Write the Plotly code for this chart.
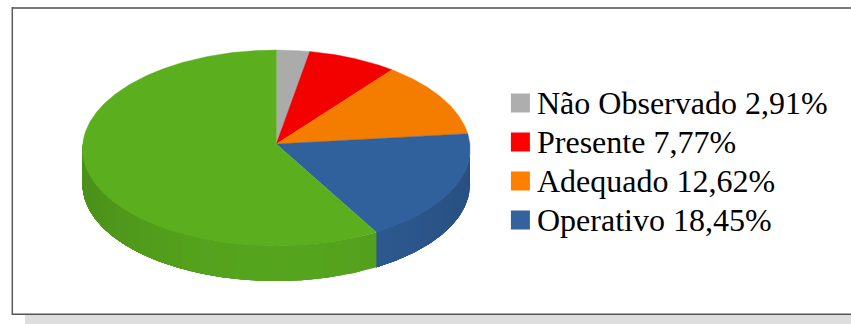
import numpy as np
import plotly.graph_objects as go

# Chart data
categories = ["Não Observado", "Presente", "Adequado", "Operativo", "Restante"]
values = [2.91, 7.77, 12.62, 18.45, 58.25]
top_colors = ["#ABABAB", "#F30000", "#F47D00", "#31619D", "#5BAF1F"]
swatch_colors = ["#AEAEAE", "#FF0000", "#FF7F00", "#33629F"]

# Geometry of the tilted disc, in page pixels
CX, CY, RX, RY = 276.3, 148.0, 193.6, 98.0
APEX_Y = 144.0
DEPTH = 35.0
PERSPECTIVE = 0.05
LIFT = 0.04


def rim(theta):
    """Point on the top rim; theta runs clockwise from twelve o'clock.
    The near half of the disc is spread slightly wider than the far half,
    and the sides sit a little higher than a plain ellipse would put them."""
    x = CX + RX * np.sin(theta) * (1 - PERSPECTIVE * np.cos(theta))
    y = CY - RY * (np.cos(theta) + LIFT * np.sin(theta) ** 2)
    return x, y


def shade(hex_color, factor):
    rgb = [int(hex_color[i:i + 2], 16) for i in (1, 3, 5)]
    return "rgb({},{},{})".format(*[round(c * factor) for c in rgb])


fig = go.Figure()

edges = np.concatenate([[0.0], np.cumsum(values)]) / sum(values) * 2 * np.pi

# Side wall, front half only. Each band runs to the far end of its slice and
# the next one paints over it, which leaves no seams between bands.
for idx in (3, 4):
    start, stop = max(edges[idx], np.pi / 2), min(edges[idx + 1], 3 * np.pi / 2)
    n = max(int((stop - start) / 0.09), 1)
    steps = np.linspace(start, stop, n + 1)
    for a, b in zip(steps[:-1], steps[1:]):
        t = np.linspace(a, stop, max(int((stop - a) / 0.01), 2))
        x, y = rim(t)
        mid = (a + b) / 2
        # lightest at the front of the disc, darker towards its outer ends
        factor = 0.94 - 0.12 * abs(np.sin(mid)) ** 2
        color = shade(top_colors[idx], factor)
        fig.add_trace(go.Scatter(
            x=np.concatenate([x, x[::-1]]),
            y=np.concatenate([y, y[::-1] + DEPTH]),
            mode="lines", fill="toself", fillcolor=color,
            line=dict(width=0),
            hoverinfo="skip", showlegend=False,
        ))

# Top face wedges
for i, name in enumerate(categories):
    t = np.linspace(edges[i], edges[i + 1], max(int((edges[i + 1] - edges[i]) / 0.01), 2))
    x, y = rim(t)
    fig.add_trace(go.Scatter(
        x=np.concatenate([[CX], x, [CX]]),
        y=np.concatenate([[APEX_Y], y, [APEX_Y]]),
        mode="lines", fill="toself", fillcolor=top_colors[i],
        line=dict(color=top_colors[i], width=0.4),
        name=name, hoverinfo="name", showlegend=False,
    ))

# Key: swatches and labels for the first four categories
key_y = [103.0, 142.0, 181.0, 220.0]
fig.add_trace(go.Scatter(
    x=[520.4] * 4, y=key_y, mode="markers",
    marker=dict(symbol="square", size=19, color=swatch_colors, line=dict(width=0)),
    hoverinfo="skip", showlegend=False,
))

annotations = []
for name, value, y in zip(categories[:4], values[:4], key_y):
    label = f"{name} {value:.2f}%".replace(".", ",")
    annotations.append(dict(
        x=535, y=y, xref="x", yref="y", text=label, showarrow=False,
        xanchor="left", yanchor="middle",
        font=dict(family="Liberation Serif", size=32, color="#000000"),
    ))

# Frame and the grey band under it
shapes = [
    dict(type="rect", x0=25, x1=851, y0=315, y1=324, fillcolor="#DEDEDE",
         line=dict(width=0), layer="below"),
    dict(type="line", x0=12, x1=851, y0=8, y1=8, line=dict(color="#7A7A7A", width=2), layer="below"),
    dict(type="line", x0=12.3, x1=12.3, y0=7, y1=315, line=dict(color="#5A5A5A", width=1.5), layer="below"),
    dict(type="line", x0=12, x1=851, y0=314.3, y1=314.3, line=dict(color="#555555", width=1.5), layer="below"),
]

fig.update_layout(
    width=851, height=324,
    margin=dict(l=0, r=0, t=0, b=0),
    paper_bgcolor="#FFFFFF", plot_bgcolor="#FFFFFF",
    xaxis=dict(range=[0, 851], visible=False, fixedrange=True),
    yaxis=dict(range=[324, 0], visible=False, fixedrange=True),
    shapes=shapes, annotations=annotations, showlegend=False,
)

fig.write_html("out.html", config=dict(displayModeBar=False))
